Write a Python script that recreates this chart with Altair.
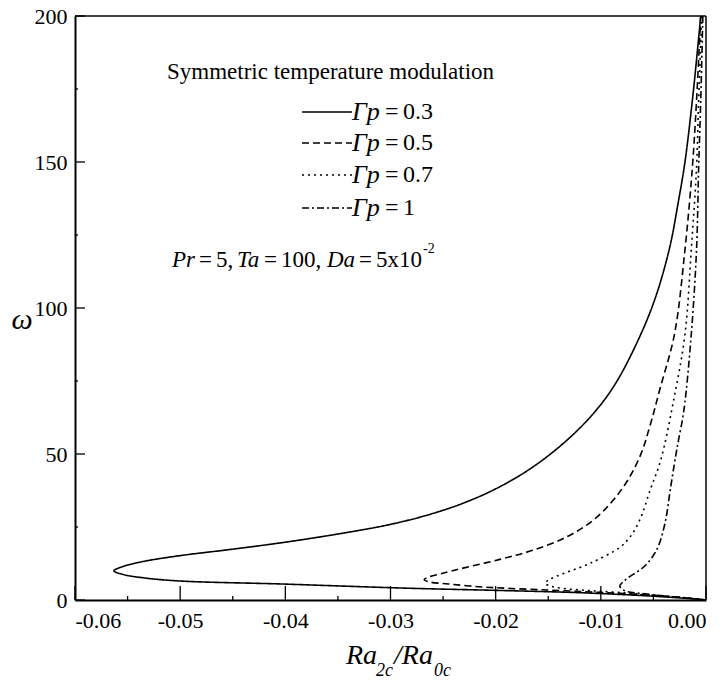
import altair as alt
import pandas as pd

# ---------------- data ----------------
series_names = ["Γp = 0.3", "Γp = 0.5", "Γp = 0.7", "Γp = 1"]
series_values = ["0.3", "0.5", "0.7", "1"]

omega_03 = [200, 185, 171, 150, 137, 120, 101.6, 85.6, 73, 63.9, 54.8, 45.7, 38.8, 33.7, 29.6,
            25.9, 22.6, 19.8, 17.4, 15.2, 13.2, 11.4, 10, 8.8, 7.6, 6.5, 5.5, 4.8, 4.0, 3.3, 2.5,
            1.5, 0.6, 0]
ra_03 = [-0.0005, -0.0009, -0.0013, -0.0020, -0.0026, -0.0035, -0.0050, -0.0069, -0.0088,
         -0.0107, -0.0132, -0.0164, -0.0196, -0.0227, -0.0260, -0.0300, -0.0350, -0.0400,
         -0.0450, -0.0500, -0.0535, -0.0555, -0.0563, -0.0555, -0.0535, -0.0500, -0.0405,
         -0.0348, -0.0280, -0.0200, -0.0120, -0.0060, -0.0020, 0.0]

omega_05 = [200, 171, 148, 120, 91, 72, 60, 49, 38, 28, 21.7, 17, 14, 11, 9, 7.8, 7, 6.2, 5.5,
            4.8, 4.2, 3.4, 2.6, 1.6, 0.6, 0]
ra_05 = [-0.0005, -0.0009, -0.0013, -0.0020, -0.0030, -0.0044, -0.0053, -0.0063, -0.0080,
         -0.0105, -0.0132, -0.0165, -0.0195, -0.0230, -0.0252, -0.0264, -0.0268, -0.0263,
         -0.0245, -0.0225, -0.0200, -0.0150, -0.0100, -0.0050, -0.0015, 0.0]

omega_07 = [200, 171, 148, 120, 91, 68, 48, 37.7, 27.4, 21.7, 18, 12.6, 9, 7, 5.7, 4.8, 4.0,
            3.2, 2.5, 1.5, 0.5, 0]
ra_07 = [-0.0004, -0.0007, -0.0009, -0.0014, -0.0020, -0.0031, -0.0043, -0.0053, -0.0063,
         -0.0072, -0.0082, -0.0110, -0.0136, -0.0149, -0.0153, -0.0148, -0.0137, -0.0110,
         -0.0080, -0.0045, -0.0012, 0.0]

omega_10 = [200, 171, 148, 120, 91, 65, 55, 49, 37.7, 26.3, 17.1, 11.4, 7.4, 5.8, 4.8, 3.8,
            2.9, 2.2, 1.4, 0.6, 0]
ra_10 = [-0.0003, -0.0005, -0.0007, -0.0009, -0.0014, -0.0021, -0.0026, -0.0029, -0.0034,
         -0.0039, -0.0047, -0.0059, -0.0075, -0.0080, -0.0082, -0.0080, -0.0075, -0.0060,
         -0.0040, -0.0015, 0.0]

x_major = [-0.06, -0.05, -0.04, -0.03, -0.02, -0.01, 0.0]
x_minor = [-0.055, -0.045, -0.035, -0.025, -0.015, -0.005]
y_major = [0, 50, 100, 150, 200]
y_minor = [25, 75, 125, 175]

# ---------------- build table ----------------
rows = []
for name, om, ra in zip(series_names,
                        [omega_03, omega_05, omega_07, omega_10],
                        [ra_03, ra_05, ra_07, ra_10]):
    for i, (o, r) in enumerate(zip(om, ra)):
        rows.append({"series": name, "omega": o, "ra": r, "idx": i})
df = pd.DataFrame(rows)

FONT = "Liberation Serif"
W, H = 631, 584

xscale = alt.Scale(domain=[-0.06, 0.0], nice=False, zero=False)
yscale = alt.Scale(domain=[0, 200], nice=False)
xaxis = alt.Axis(values=x_major, title=None, ticks=False, grid=False, labelFont=FONT,
                 labelFontSize=22, labelColor="black", labelPadding=10,
                 domainColor="black", domainWidth=2,
                 labelExpr="datum.value < 0 ? '-' + format(-datum.value, '.2f') : format(datum.value, '.2f')")
yaxis = alt.Axis(values=y_major, title=None, ticks=False, grid=False, labelFont=FONT,
                 labelFontSize=22, labelColor="black", labelPadding=8, format="d",
                 domainColor="black", domainWidth=2)

dash_range = [[1, 0], [7, 4], [2, 4], [7, 3, 2, 3]]

lines = alt.Chart(df).mark_line(strokeWidth=1.6, interpolate="catmull-rom", color="black").encode(
    x=alt.X("ra:Q", scale=xscale, axis=xaxis),
    y=alt.Y("omega:Q", scale=yscale, axis=yaxis),
    detail="series:N",
    order="idx:Q",
    strokeDash=alt.StrokeDash("series:N", scale=alt.Scale(domain=series_names, range=dash_range),
                              legend=None),
)

def xticks(vals, length):
    return alt.Chart(pd.DataFrame({"ra": vals})).mark_rule(color="black", strokeWidth=1.3).encode(
        x=alt.X("ra:Q", scale=xscale, axis=xaxis),
        y=alt.value(H), y2=alt.value(H - length))

def yticks(vals, length):
    return alt.Chart(pd.DataFrame({"omega": vals})).mark_rule(color="black", strokeWidth=1.3).encode(
        y=alt.Y("omega:Q", scale=yscale, axis=yaxis),
        x=alt.value(0), x2=alt.value(length))

def txt(text, x, y, size=23, italic=False, align="left", baseline="middle"):
    return alt.Chart(pd.DataFrame({"t": [text]})).mark_text(
        font=FONT, fontSize=size, fontStyle="italic" if italic else "normal",
        align=align, baseline=baseline, color="black").encode(
        x=alt.value(x), y=alt.value(y), text="t:N")

layers = [lines,
          xticks(x_major, 14), xticks(x_minor, 4),
          yticks(y_major, 10), yticks(y_minor, 3)]

# frame top / right
layers.append(alt.Chart(pd.DataFrame({"a": [0]})).mark_rule(color="black", strokeWidth=1.5).encode(
    x=alt.value(0), x2=alt.value(W), y=alt.value(0)))
layers.append(alt.Chart(pd.DataFrame({"a": [0]})).mark_rule(color="black", strokeWidth=1.5).encode(
    x=alt.value(W), y=alt.value(0), y2=alt.value(H)))

# annotation
layers.append(txt("Symmetric temperature modulation", 92, 56, size=23))
leg_y = [96, 127, 159, 192]
for val, dash, ly in zip(series_values, dash_range, leg_y):
    layers.append(alt.Chart(pd.DataFrame({"a": [0]})).mark_rule(
        color="black", strokeWidth=1.3, strokeDash=dash).encode(
        x=alt.value(227), x2=alt.value(277), y=alt.value(ly)))
    layers.append(txt("Γp", 277, ly, size=26, italic=True))
    layers.append(txt("=", 310, ly, size=24))
    layers.append(txt(val, 328, ly, size=24))

py = 244
layers += [txt("Pr", 97, py, italic=True), txt("=", 124, py), txt("5,", 141, py),
           txt("Ta", 162, py, italic=True), txt("=", 189, py), txt("100,", 206, py),
           txt("Da", 252, py, italic=True), txt("=", 284, py), txt("5x10", 301, py),
           txt("-2", 348, py - 11, size=14)]

# axis titles
layers += [txt("ω", -53, 304, size=30, italic=True, align="center"),
           txt("Ra", 271, 640, size=28, italic=True),
           txt("2c", 301, 655, size=18, italic=True),
           txt("/Ra", 319, 640, size=28, italic=True),
           txt("0c", 359, 655, size=18, italic=True)]

chart = alt.layer(*layers).properties(
    width=W, height=H,
    autosize=alt.AutoSizeParams(type="none"),
    padding={"left": 75, "top": 16, "right": 20, "bottom": 90},
    background="white",
).configure_view(stroke=None)

chart.save("out.html", embed_options={"renderer": "svg", "actions": False})
